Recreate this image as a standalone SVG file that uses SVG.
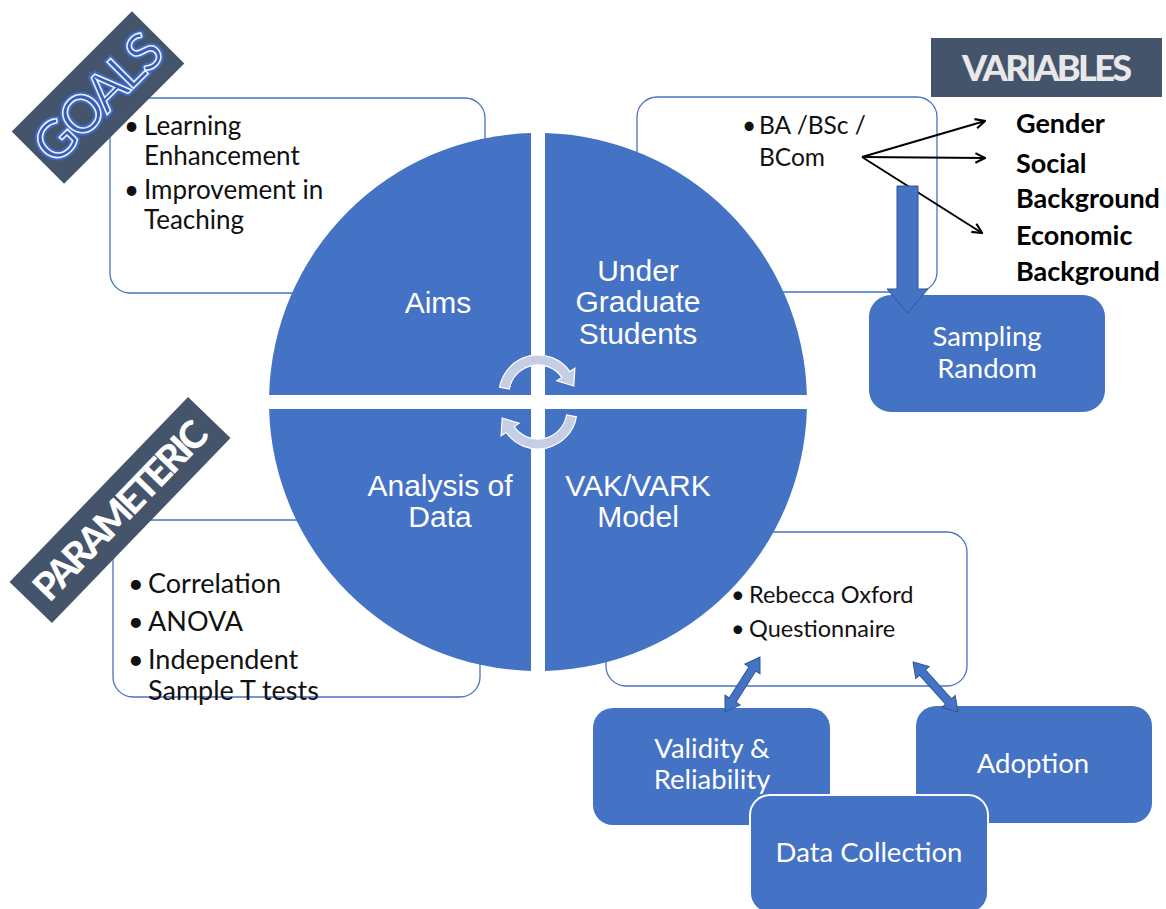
<svg xmlns="http://www.w3.org/2000/svg" width="1166" height="909" viewBox="0 0 1166 909">
<style>
.box{fill:#fff;stroke:#4A72C0;stroke-width:1.3}
.blk{fill:#4472C4}
.q{fill:#4472C4}
.ct{font-family:"Liberation Sans",Arial,sans-serif;font-size:30px;fill:#fff;text-anchor:middle}
.bt{font-family:Lato,"Open Sans",sans-serif;font-size:26px;fill:#111}
.wt{font-family:Lato,"Open Sans",sans-serif;font-size:27.5px;fill:#fff;text-anchor:middle}
.vt{font-family:Lato,"Open Sans",sans-serif;font-size:27px;font-weight:bold;fill:#000}
.ban{fill:#44546A}
.cyc{fill:#C6CEE6;stroke:#fff;stroke-width:1.2}
.dbl{fill:#4472C4;stroke:#2F5597;stroke-width:1}
</style>
<defs>
<marker id="ah" viewBox="0 0 10 10" refX="9" refY="5" markerWidth="12" markerHeight="12" markerUnits="userSpaceOnUse" orient="auto">
<path d="M1,1 L9,5 L1,9" fill="none" stroke="#000" stroke-width="1.8"/>
</marker>
</defs>

<g id="goals-box">
<rect class="box" x="110" y="98" width="375" height="195" rx="20"/>
<text class="bt" x="124" y="135">•</text><text class="bt" x="144" y="135">Learning</text>
<text class="bt" x="144" y="165">Enhancement</text>
<text class="bt" x="124" y="199">•</text><text class="bt" x="144" y="199">Improvement in</text>
<text class="bt" x="144" y="229">Teaching</text>
</g>

<g id="students-box">
<rect class="box" x="637" y="97" width="300" height="195" rx="20"/>
<text class="bt" x="742" y="134" style="font-size:24.5px">•</text><text class="bt" x="759" y="134" style="font-size:24.5px">BA /BSc /</text>
<text class="bt" x="759" y="166" style="font-size:24.5px">BCom</text>
</g>

<g id="analysis-box">
<rect class="box" x="113" y="520" width="367" height="177" rx="20"/>
<text class="bt" x="128" y="593" style="font-size:27px">•</text><text class="bt" x="148" y="593" style="font-size:27px">Correlation</text>
<text class="bt" x="128" y="631" style="font-size:27px">•</text><text class="bt" x="148" y="631" style="font-size:27px">ANOVA</text>
<text class="bt" x="128" y="669" style="font-size:27px">•</text><text class="bt" x="148" y="669" style="font-size:27px">Independent</text>
<text class="bt" x="148" y="700" style="font-size:27px">Sample T tests</text>
</g>

<g id="model-box">
<rect class="box" x="606" y="532" width="361" height="154" rx="20"/>
<text class="bt" x="731" y="603" style="font-size:23.5px">•</text><text class="bt" x="749" y="603" style="font-size:23.5px">Rebecca Oxford</text>
<text class="bt" x="731" y="637" style="font-size:23.5px">•</text><text class="bt" x="749" y="637" style="font-size:23.5px">Questionnaire</text>
</g>

<g id="cycle">
<g id="q-aims"><path class="q" d="M531,395 L269.1,395 A269,269 0 0 1 531,133.1 Z"/><text class="ct" x="438" y="313">Aims</text></g>
<g id="q-students"><path class="q" d="M545,395 L545,133.1 A269,269 0 0 1 806.9,395 Z"/><text class="ct" x="638" y="281">Under</text><text class="ct" x="638" y="312">Graduate</text><text class="ct" x="638" y="344">Students</text></g>
<g id="q-model"><path class="q" d="M545,409 L806.9,409 A269,269 0 0 1 545,670.9 Z"/><text class="ct" x="638" y="496">VAK/VARK</text><text class="ct" x="638" y="527">Model</text></g>
<g id="q-analysis"><path class="q" d="M531,409 L531,670.9 A269,269 0 0 1 269.1,409 Z"/><text class="ct" x="440" y="496">Analysis of</text><text class="ct" x="440" y="527">Data</text></g>
<path class="cyc" d="M499.6,387.2 A39,39 0 0 1 569.9,371.6 L574.9,368.2 L573.8,386 L556.8,380.8 L561.8,377.4 A29,29 0 0 0 509.4,389 Z"/>
<path class="cyc" d="M499.6,387.2 A39,39 0 0 1 569.9,371.6 L574.9,368.2 L573.8,386 L556.8,380.8 L561.8,377.4 A29,29 0 0 0 509.4,389 Z" transform="rotate(180 538 402)"/>
</g>

<g id="goals-banner">
<rect class="ban" x="13" y="60.5" width="170" height="74" transform="rotate(-45 98 97.5)"/>
<g transform="rotate(-45 98 97.5)" style="font-family:Lato,'Open Sans',sans-serif;font-size:52px;text-anchor:middle">
<text x="98" y="116" textLength="158" fill="none" stroke="#3D6FD6" stroke-width="6" opacity="0.8">GOALS</text>
<text x="98" y="116" textLength="158" fill="#3A5DAE" stroke="#EAF0FF" stroke-width="1.6">GOALS</text>
</g>
</g>

<g id="parameteric-banner">
<rect class="ban" x="-8.5" y="480.5" width="257" height="59" transform="rotate(-46 120 510)"/>
<text x="120" y="524" transform="rotate(-46 120 510)" textLength="232" style="font-family:Lato,'Open Sans',sans-serif;font-size:38px;font-weight:900;fill:#fff;text-anchor:middle">PARAMETERIC</text>
</g>

<g id="variables-banner">
<rect class="ban" x="931" y="38" width="231" height="59"/>
<text x="1047" y="81" textLength="170" style="font-family:Lato,'Open Sans',sans-serif;font-size:36px;font-weight:900;fill:#E8E8EA;text-anchor:middle">VARIABLES</text>
</g>

<g id="variables">
<text class="vt" x="1016" y="133">Gender</text>
<text class="vt" x="1016" y="173">Social</text>
<text class="vt" x="1016" y="208">Background</text>
<text class="vt" x="1016" y="245">Economic</text>
<text class="vt" x="1016" y="281">Background</text>
</g>

<g id="sampling">
<rect class="blk" x="869" y="295" width="236" height="117" rx="22"/>
<text class="wt" x="987" y="346">Sampling</text>
<text class="wt" x="987" y="378">Random</text>
</g>

<g id="validity">
<rect class="blk" x="593" y="708" width="237" height="117" rx="20"/>
<text class="wt" x="712" y="758">Validity &amp;</text>
<text class="wt" x="712" y="789">Reliability</text>
</g>

<g id="adoption">
<rect class="blk" x="916" y="706" width="236" height="117" rx="20"/>
<text class="wt" x="1033" y="773">Adoption</text>
</g>

<g id="data-collection">
<rect class="blk" x="750" y="795" width="238" height="118" rx="20" stroke="#fff" stroke-width="2"/>
<text class="wt" x="869" y="862">Data Collection</text>
</g>

<g id="connectors">
<line x1="862" y1="157" x2="985" y2="121" stroke="#000" stroke-width="2" marker-end="url(#ah)"/>
<line x1="862" y1="157" x2="985" y2="158" stroke="#000" stroke-width="2" marker-end="url(#ah)"/>
<line x1="862" y1="157" x2="982" y2="233" stroke="#000" stroke-width="2" marker-end="url(#ah)"/>
<path class="dbl" d="M897,186 L918,186 L918,289 L928,289 L907.5,313 L887,289 L897,289 Z"/>
<path class="dbl" transform="translate(742.5 684.5) rotate(122.5)" d="M-32.5,0 L-18.5,-9 L-18.5,-4 L18.5,-4 L18.5,-9 L32.5,0 L18.5,9 L18.5,4 L-18.5,4 L-18.5,9 Z"/>
<path class="dbl" transform="translate(935.5 687) rotate(48)" d="M-33.5,0 L-19.5,-9 L-19.5,-4 L19.5,-4 L19.5,-9 L33.5,0 L19.5,9 L19.5,4 L-19.5,4 L-19.5,9 Z"/>
</g>
</svg>
